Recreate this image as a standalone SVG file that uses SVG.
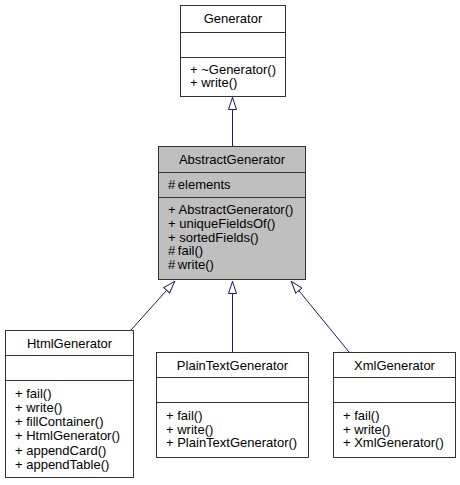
<svg xmlns="http://www.w3.org/2000/svg" width="460" height="485" viewBox="0 0 460 485">
<style>
.box{fill:#ffffff;stroke:#333333;stroke-width:1}
.abs{fill:#bfbfbf;stroke:#333333;stroke-width:1}
.div{stroke:#333333;stroke-width:1}
text{font-family:"Liberation Sans",Arial,sans-serif;font-size:13px;fill:#000000}
.t{text-anchor:middle}
.edge{fill:none;stroke:#191970;stroke-width:1}
</style>
<defs>
<marker id="inh" viewBox="0 0 13 9" refX="13" refY="4.5" markerWidth="13" markerHeight="9" markerUnits="userSpaceOnUse" orient="auto">
<path d="M0.5,0.5 L12.5,4.5 L0.5,8.5 Z" fill="#ffffff" stroke="#191970" stroke-width="1"/>
</marker>
</defs>
<rect width="460" height="485" fill="#ffffff"/>
<g id="connectors">
<path class="edge" d="M232.5,146 L232.5,97" marker-end="url(#inh)"/>
<path class="edge" d="M131,330 L175,281" marker-end="url(#inh)"/>
<path class="edge" d="M232.5,352 L232.5,281" marker-end="url(#inh)"/>
<path class="edge" d="M349,352 L291,281" marker-end="url(#inh)"/>
</g>
<g id="Generator">
<rect class="box" x="180.5" y="5.5" width="105" height="91"/>
<line class="div" x1="180.5" y1="32.5" x2="285.5" y2="32.5"/>
<line class="div" x1="180.5" y1="57.5" x2="285.5" y2="57.5"/>
<text class="t" x="233" y="23">Generator</text>
<text x="190" y="73.5">+ ~Generator()</text>
<text x="190" y="87">+ write()</text>
</g>
<g id="AbstractGenerator">
<rect class="abs" x="158.5" y="146.5" width="147" height="133"/>
<line class="div" x1="158.5" y1="172.5" x2="305.5" y2="172.5"/>
<line class="div" x1="158.5" y1="197.5" x2="305.5" y2="197.5"/>
<text class="t" x="232" y="164">AbstractGenerator</text>
<text x="168" y="189">#&#8201;elements</text>
<text x="168" y="214">+ AbstractGenerator()</text>
<text x="168" y="227.75">+ uniqueFieldsOf()</text>
<text x="168" y="241.5">+ sortedFields()</text>
<text x="168" y="255.25">#&#8201;fail()</text>
<text x="168" y="269">#&#8201;write()</text>
</g>
<g id="HtmlGenerator">
<rect class="box" x="5.5" y="330.5" width="128" height="147"/>
<line class="div" x1="5.5" y1="355.5" x2="133.5" y2="355.5"/>
<line class="div" x1="5.5" y1="380.5" x2="133.5" y2="380.5"/>
<text class="t" x="69.5" y="348">HtmlGenerator</text>
<text x="15" y="398">+ fail()</text>
<text x="15" y="412">+ write()</text>
<text x="15" y="426">+ fillContainer()</text>
<text x="15" y="440">+ HtmlGenerator()</text>
<text x="15" y="454.5">+ appendCard()</text>
<text x="15" y="469">+ appendTable()</text>
</g>
<g id="PlainTextGenerator">
<rect class="box" x="156.5" y="352.5" width="152" height="105"/>
<line class="div" x1="156.5" y1="377.5" x2="308.5" y2="377.5"/>
<line class="div" x1="156.5" y1="402.5" x2="308.5" y2="402.5"/>
<text class="t" x="232.5" y="370">PlainTextGenerator</text>
<text x="166" y="420">+ fail()</text>
<text x="166" y="433.5">+ write()</text>
<text x="166" y="447">+ PlainTextGenerator()</text>
</g>
<g id="XmlGenerator">
<rect class="box" x="333.5" y="352.5" width="122" height="105"/>
<line class="div" x1="333.5" y1="377.5" x2="455.5" y2="377.5"/>
<line class="div" x1="333.5" y1="402.5" x2="455.5" y2="402.5"/>
<text class="t" x="394.5" y="370">XmlGenerator</text>
<text x="343" y="420">+ fail()</text>
<text x="343" y="433.5">+ write()</text>
<text x="343" y="447">+ XmlGenerator()</text>
</g>
</svg>
